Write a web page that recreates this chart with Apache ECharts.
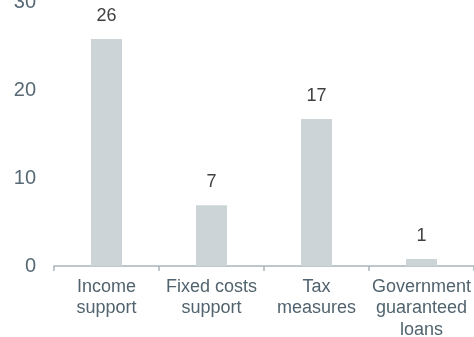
<!DOCTYPE html>
<html>
<head>
<meta charset="utf-8">
<script src="https://cdn.jsdelivr.net/npm/echarts@6/dist/echarts.min.js"></script>
<style>html,body{margin:0;padding:0;background:#fff}#c{width:474px;height:337px}</style>
</head>
<body>
<div id="c"></div>
<script>
var categories = ["Income\nsupport", "Fixed costs\nsupport", "Tax\nmeasures", "Government\nguaranteed\nloans"];
var values = [25.8, 6.9, 16.7, 0.8];
var yTicks = [0, 10, 20, 30];

var chart = echarts.init(document.getElementById('c'), null, {renderer: 'canvas'});
chart.setOption({
  animation: false,
  grid: {left: 54, right: 0, top: 2, bottom: 71, containLabel: false, outerBoundsMode: 'none'},
  xAxis: {
    type: 'category',
    data: categories,
    axisLine: {show: true, lineStyle: {color: '#a9b5ba', width: 1.5}},
    axisTick: {show: true, length: 5, lineStyle: {color: '#a9b5ba', width: 1.5}, alignWithLabel: false},
    axisLabel: {color: '#51636e', fontFamily: 'Liberation Sans, Arial', fontSize: 18, lineHeight: 21.5, margin: 10, interval: 0}
  },
  yAxis: {
    type: 'value',
    min: yTicks[0], max: yTicks[yTicks.length - 1], interval: 10,
    axisLine: {show: false},
    axisTick: {show: false},
    splitLine: {show: false},
    axisLabel: {color: '#56697500'.slice(0, 7), fontFamily: 'Liberation Sans, Arial', fontSize: 20, margin: 18}
  },
  series: [{
    type: 'bar',
    data: values,
    barWidth: 31,
    itemStyle: {color: '#ccd4d7'},
    label: {
      show: true, position: 'top', distance: 14,
      color: '#404040', fontFamily: 'Liberation Sans, Arial', fontSize: 18,
      formatter: function (p) { return Math.round(p.value); }
    }
  }]
});
</script>
</body>
</html>
